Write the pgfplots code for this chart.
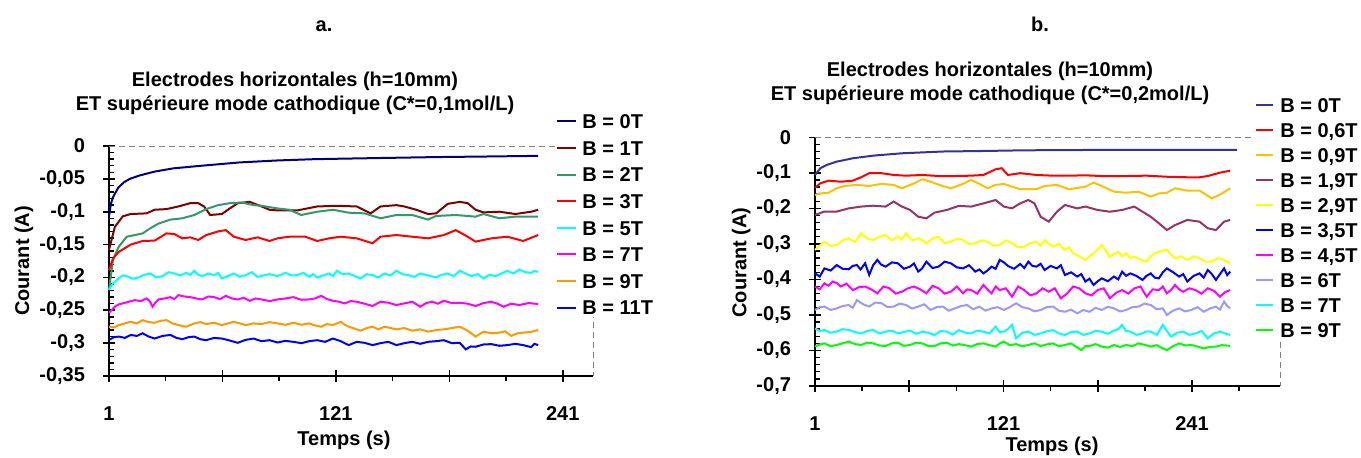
\documentclass[border=0pt]{standalone}
\usepackage{fontspec}
\setmainfont{Liberation Sans}
\usepackage{pgfplots}
\pgfplotsset{compat=1.18}
\definecolor{c0}{RGB}{0,0,128}
\definecolor{c1}{RGB}{128,0,0}
\definecolor{c2}{RGB}{51,153,102}
\definecolor{c3}{RGB}{255,0,0}
\definecolor{c5}{RGB}{0,255,255}
\definecolor{c7}{RGB}{255,0,255}
\definecolor{c9}{RGB}{255,153,0}
\definecolor{c11}{RGB}{0,0,255}
\definecolor{d0}{RGB}{51,51,153}
\definecolor{d06}{RGB}{255,0,0}
\definecolor{d09}{RGB}{255,192,0}
\definecolor{d19}{RGB}{153,51,102}
\definecolor{d29}{RGB}{255,255,0}
\definecolor{d35}{RGB}{0,0,255}
\definecolor{d45}{RGB}{255,0,255}
\definecolor{d6}{RGB}{153,153,255}
\definecolor{d7}{RGB}{0,255,255}
\definecolor{d9}{RGB}{0,255,0}
\pgfplotsset{
  myax/.style={
    scale only axis, clip=false,
    axis lines=left, axis line style={-, black, line width=0.75pt},
    xmin=1,
    xtick={1,61,121,181,241}, xticklabels={1,,121,,241},
    tick align=center, major tick length=6pt, minor tick length=2.6pt,
    major tick style={draw=black, line width=0.8pt},
    minor tick style={draw=black, line width=0.7pt},
    every minor x tick/.append style={yshift=-1.3pt},
    every minor y tick/.append style={xshift=1.3pt},
    minor y tick num=4,
    tick label style={font=\bfseries},
    xticklabel style={yshift=-8.8pt},
    yticklabel style={xshift=-5.5pt},
    label style={font=\bfseries},
    xlabel={Temps (s)}, ylabel={Courant (A)},
    legend cell align=left,
    legend image code/.code={\draw[##1] (0pt,0pt) -- (9.5pt,0pt);},
    every axis plot/.append style={line width=1pt},
  }
}
\begin{document}
\begin{tikzpicture}
\path[use as bounding box] (0,0) rectangle (680.5pt,228.5pt);
\node[font=\bfseries, anchor=base] at (162pt,212.6pt) {a.};
\node[font=\bfseries, anchor=base] at (520pt,212.6pt) {b.};
\node[font=\bfseries, anchor=base] at (147.5pt,185.5pt) {Electrodes horizontales (h=10mm)};
\node[font=\bfseries, anchor=base] at (147.5pt,173.5pt) {ET supérieure mode cathodique (C*=0,1mol/L)};
\node[font=\bfseries, anchor=base] at (495pt,190.5pt) {Electrodes horizontales (h=10mm)};
\node[font=\bfseries, anchor=base] at (495pt,178.5pt) {ET supérieure mode cathodique (C*=0,2mol/L)};

% ---------------- left chart ----------------
\begin{axis}[myax,
  at={(54.5pt,40.5pt)}, anchor=south west,
  width=242pt, height=115pt,
  xmax=257, ymin=-0.35, ymax=0,
  minor xtick={31,91,151,211},
  ytick={-0.35,-0.3,-0.25,-0.2,-0.15,-0.1,-0.05,0},
  yticklabels={{-0,35},{-0,3},{-0,25},{-0,2},{-0,15},{-0,1},{-0,05},0},
  xlabel style={at={(axis description cs:0.4855,-0.30)}, anchor=base},
  ylabel style={at={(axis description cs:-0.165,0.5)}, anchor=base, rotate=0},
  legend style={draw=none, fill=white, inner sep=0pt,
    at={(0.9236,1.1487)}, anchor=north west, font=\bfseries,
    row sep=4.1pt, nodes={inner sep=1pt, text height=7.2pt, text depth=0pt},
    /tikz/every odd column/.style={column sep=1.5pt}},
]
\draw[gray, dash pattern=on 3pt off 2pt, line width=0.5pt] (rel axis cs:0,1) -- (rel axis cs:1,1) -- (rel axis cs:1,0);
\addplot[c0] coordinates {(1,-0.107)(2,-0.088)(3,-0.079)(4,-0.073)(6,-0.063)(9,-0.055)(12,-0.05)(17,-0.045)(25,-0.039)(35,-0.034)(50,-0.03)(70,-0.025)(90,-0.022)(110,-0.02)(130,-0.019)(150,-0.018)(175,-0.0168)(200,-0.016)(228,-0.015)};
\addlegendentry{B = 0T}
\addplot[c1] coordinates {(1,-0.158)(4.1,-0.123)(8.3,-0.107)(12.5,-0.1035)(20.9,-0.1025)(25.1,-0.097)(31.4,-0.096)(37.7,-0.092)(44,-0.087)(48.2,-0.087)(51.3,-0.092)(54.5,-0.105)(60.7,-0.1035)(64.9,-0.095)(69.1,-0.087)(75.4,-0.085)(81.7,-0.092)(85.9,-0.097)(90.1,-0.098)(100.6,-0.098)(111.1,-0.092)(121.5,-0.091)(132,-0.092)(139.4,-0.1025)(144.6,-0.092)(153,-0.09)(157.2,-0.092)(163.5,-0.097)(169.8,-0.1035)(174,-0.1025)(180.2,-0.088)(186.5,-0.085)(190.7,-0.087)(194.9,-0.097)(199.1,-0.101)(207.5,-0.1)(215.9,-0.1035)(224.3,-0.1)(228,-0.097)};
\addlegendentry{B = 1T}
\addplot[c2] coordinates {(1,-0.219)(3.1,-0.1735)(6.2,-0.153)(10.4,-0.138)(14.6,-0.1355)(18.8,-0.133)(23,-0.125)(27.2,-0.118)(33.5,-0.112)(39.8,-0.11)(46.1,-0.105)(52.4,-0.096)(58.7,-0.09)(64.9,-0.087)(71.2,-0.086)(77.5,-0.09)(81.7,-0.091)(90.1,-0.095)(96.4,-0.097)(102.7,-0.105)(111.1,-0.1)(119.4,-0.097)(127.8,-0.1015)(136.2,-0.1025)(144.6,-0.11)(153,-0.105)(161.4,-0.105)(169.8,-0.112)(174,-0.1065)(184.4,-0.105)(194.9,-0.1075)(199.1,-0.1035)(207.5,-0.11)(215.9,-0.1075)(228,-0.1075)};
\addlegendentry{B = 2T}
\addplot[c3] coordinates {(1,-0.189)(3.1,-0.171)(6.2,-0.161)(12.5,-0.15)(18.8,-0.1445)(25.1,-0.144)(31.4,-0.133)(35.6,-0.134)(39.8,-0.1405)(44,-0.139)(48.2,-0.143)(52.4,-0.1355)(58.7,-0.13)(62.8,-0.128)(67,-0.138)(73.3,-0.143)(79.6,-0.139)(85.9,-0.1445)(90.1,-0.1405)(96.4,-0.138)(104.8,-0.138)(111.1,-0.1445)(117.4,-0.1405)(123.6,-0.138)(132,-0.1405)(140.4,-0.148)(144.6,-0.138)(153,-0.1355)(161.4,-0.138)(169.8,-0.1405)(178.1,-0.1355)(184.4,-0.128)(190.7,-0.138)(194.9,-0.1455)(203.3,-0.1405)(211.7,-0.138)(220.1,-0.1445)(228,-0.1355)};
\addlegendentry{B = 3T}
\addplot[c5] coordinates {(1,-0.219)(3.1,-0.209)(6.2,-0.2015)(8.3,-0.197)(10.4,-0.198)(13.5,-0.202)(16.7,-0.2)(19.8,-0.196)(23,-0.194)(26,-0.2)(29.3,-0.198)(32.5,-0.192)(35.6,-0.194)(38.7,-0.197)(41.9,-0.193)(44,-0.196)(46.1,-0.19)(48.2,-0.196)(50.3,-0.198)(53.5,-0.194)(56.6,-0.1965)(58.7,-0.193)(60.7,-0.2015)(63.9,-0.198)(67,-0.194)(70.2,-0.199)(73.3,-0.1965)(76.5,-0.192)(79.6,-0.199)(82.8,-0.197)(85.9,-0.195)(90.1,-0.198)(94.3,-0.193)(97.5,-0.197)(100.6,-0.1965)(103.8,-0.193)(106.9,-0.199)(109,-0.195)(111.1,-0.2)(114.3,-0.197)(117.4,-0.194)(119.5,-0.198)(121.5,-0.19)(124.7,-0.195)(127.8,-0.194)(131,-0.198)(134.1,-0.2015)(137.3,-0.195)(140.4,-0.1965)(143.5,-0.2)(146.7,-0.194)(149.9,-0.197)(153,-0.19)(156.2,-0.195)(159.3,-0.1965)(162.5,-0.199)(165.6,-0.194)(169.8,-0.197)(174,-0.2)(177.1,-0.196)(180.2,-0.194)(183.4,-0.198)(186.5,-0.19)(189.7,-0.194)(192.8,-0.198)(196,-0.195)(199.1,-0.2015)(202.3,-0.196)(205.4,-0.198)(208.6,-0.194)(211.7,-0.19)(214.9,-0.194)(218,-0.188)(221.2,-0.192)(224.3,-0.193)(226,-0.19)(228,-0.1915)};
\addlegendentry{B = 5T}
\addplot[c7] coordinates {(1,-0.254)(4.1,-0.2445)(6.2,-0.241)(8.3,-0.2395)(11.5,-0.237)(14.6,-0.2345)(17.8,-0.236)(20.9,-0.232)(22.5,-0.236)(24.1,-0.2445)(25.6,-0.238)(27.2,-0.2335)(30.4,-0.232)(33.5,-0.23)(35.6,-0.233)(37.7,-0.227)(40.9,-0.229)(44,-0.23)(47.2,-0.232)(50.3,-0.2335)(53.5,-0.229)(56.6,-0.23)(59.7,-0.233)(62.8,-0.228)(66,-0.232)(69.1,-0.2335)(72.3,-0.231)(75.4,-0.2355)(78.6,-0.232)(81.7,-0.2335)(85.9,-0.236)(90.1,-0.2335)(94.3,-0.232)(98.5,-0.23)(102.7,-0.234)(106.9,-0.2335)(110,-0.232)(113.2,-0.228)(116.3,-0.233)(119.4,-0.2355)(122.6,-0.237)(125.7,-0.2395)(128.9,-0.236)(132,-0.237)(136.2,-0.24)(140.4,-0.2435)(144.6,-0.237)(148.8,-0.2385)(153,-0.242)(157.2,-0.2395)(161.4,-0.237)(165.6,-0.2445)(168.8,-0.239)(171.9,-0.237)(175,-0.24)(178.1,-0.2355)(182.3,-0.239)(186.5,-0.2385)(190.7,-0.24)(194.9,-0.2435)(199.1,-0.239)(203.3,-0.237)(206.5,-0.24)(209.6,-0.2445)(213.8,-0.24)(218,-0.242)(223,-0.239)(228,-0.2405)};
\addlegendentry{B = 7T}
\addplot[c9] coordinates {(1,-0.275)(3.6,-0.276)(6.2,-0.2725)(9.4,-0.27)(12.5,-0.2675)(15.7,-0.27)(18.8,-0.265)(22,-0.268)(25.1,-0.269)(28.3,-0.266)(31.4,-0.265)(34.6,-0.27)(37.7,-0.2725)(41.9,-0.275)(46.1,-0.27)(49.3,-0.268)(52.4,-0.271)(56.6,-0.269)(60.7,-0.2725)(64,-0.27)(67,-0.2675)(70.2,-0.27)(73.3,-0.2725)(77.5,-0.27)(81.7,-0.271)(85.9,-0.268)(90.1,-0.27)(94.3,-0.272)(98.5,-0.269)(102.7,-0.272)(106.9,-0.27)(110,-0.273)(113.2,-0.275)(116.3,-0.271)(119.4,-0.2725)(121.5,-0.27)(123.6,-0.2675)(125.7,-0.272)(127.8,-0.275)(131,-0.278)(134.1,-0.281)(137.3,-0.277)(140.4,-0.275)(143.5,-0.279)(146.7,-0.275)(149.9,-0.277)(153,-0.279)(157.2,-0.277)(161.4,-0.281)(165.6,-0.279)(169.8,-0.2825)(174,-0.28)(178.1,-0.279)(182.3,-0.277)(186.5,-0.275)(190.7,-0.281)(194.9,-0.29)(199.1,-0.2825)(203.3,-0.285)(207.5,-0.284)(210.6,-0.282)(213.8,-0.289)(217,-0.285)(220.1,-0.284)(224,-0.283)(228,-0.28)};
\addlegendentry{B = 9T}
\addplot[c11] coordinates {(1,-0.295)(3.6,-0.291)(6.2,-0.29)(9.4,-0.292)(12.5,-0.2875)(15.7,-0.289)(18.8,-0.285)(22,-0.29)(25.1,-0.293)(29.3,-0.289)(33.5,-0.2875)(36.7,-0.292)(39.8,-0.294)(43,-0.291)(46.1,-0.29)(49.3,-0.294)(52.4,-0.2955)(56.6,-0.292)(60.7,-0.293)(64.9,-0.296)(69.1,-0.2995)(73.3,-0.295)(77.5,-0.293)(81.7,-0.297)(85.9,-0.2955)(90.1,-0.299)(94.3,-0.2965)(98.5,-0.298)(102.7,-0.3)(106.9,-0.297)(111.1,-0.2955)(115.3,-0.298)(119.4,-0.293)(123.6,-0.297)(127.8,-0.303)(132,-0.298)(136.2,-0.2995)(140.4,-0.303)(144.6,-0.3)(148.8,-0.298)(153,-0.303)(157.2,-0.3)(161.4,-0.298)(165.6,-0.301)(169.8,-0.298)(174,-0.297)(178.1,-0.2955)(182.3,-0.3)(186.5,-0.2995)(189.7,-0.3095)(192.3,-0.305)(194.9,-0.3055)(199.1,-0.302)(203.3,-0.3015)(207.5,-0.304)(211.7,-0.303)(215.9,-0.301)(220.1,-0.303)(224.3,-0.306)(226,-0.301)(228,-0.303)};
\addlegendentry{B = 11T}
\end{axis}

% ---------------- right chart ----------------
\begin{axis}[myax,
  at={(407.5pt,35.5pt)}, anchor=south west,
  width=232.5pt, height=124.35pt,
  xmax=297, ymin=-0.7, ymax=0,
  minor xtick={31,91,151,211,271},
  ytick={-0.7,-0.6,-0.5,-0.4,-0.3,-0.2,-0.1,0},
  yticklabels={{-0,7},{-0,6},{-0,5},{-0,4},{-0,3},{-0,2},{-0,1},0},
  xlabel style={at={(axis description cs:0.5097,-0.2614)}, anchor=base},
  ylabel style={at={(axis description cs:-0.1475,0.4966)}, anchor=base, rotate=0},
  legend image code/.code={\draw[#1] (0pt,0pt) -- (8.5pt,0pt);},
  legend style={draw=none, fill=white, inner sep=0pt,
    at={(0.9462,1.1669)}, anchor=north west, font=\bfseries,
    row sep=3.3pt, nodes={inner sep=1pt, text height=7.2pt, text depth=0pt},
    /tikz/every odd column/.style={column sep=2pt}},
]
\draw[gray, dash pattern=on 3pt off 2pt, line width=0.5pt] (rel axis cs:0,1) -- (rel axis cs:1,1) -- (rel axis cs:1,0);
\addplot[d0] coordinates {(1,-0.106)(4.4,-0.087)(8.3,-0.078)(14.8,-0.0685)(25.1,-0.059)(38.1,-0.0516)(56.3,-0.045)(82.3,-0.04)(108.2,-0.0385)(134.2,-0.0366)(173.1,-0.0357)(225,-0.0357)(269.7,-0.0357)};
\addlegendentry{B = 0T}
\addplot[d06] coordinates {(1,-0.142)(4.4,-0.1295)(9.6,-0.122)(17.4,-0.125)(25.1,-0.122)(30.3,-0.1125)(35.5,-0.101)(43.3,-0.101)(51.1,-0.106)(58.9,-0.108)(69.3,-0.106)(79.7,-0.109)(90,-0.109)(100.4,-0.108)(108.2,-0.106)(116,-0.09)(119.9,-0.087)(123.8,-0.106)(131.6,-0.101)(142,-0.106)(152.4,-0.108)(162.7,-0.108)(173.1,-0.107)(183.5,-0.109)(199.1,-0.109)(212.1,-0.108)(225,-0.111)(238,-0.1125)(245.8,-0.1125)(251,-0.109)(258.8,-0.0995)(265.3,-0.094)};
\addlegendentry{B = 0,6T}
\addplot[d09] coordinates {(1,-0.162)(4.4,-0.158)(9.6,-0.156)(14.8,-0.1435)(20,-0.137)(27.7,-0.134)(35.5,-0.137)(43.3,-0.131)(51.1,-0.134)(56.3,-0.1435)(64.1,-0.1295)(69.3,-0.118)(74.5,-0.125)(82.3,-0.137)(87.4,-0.1435)(95.2,-0.131)(100.4,-0.12)(105.6,-0.131)(110.8,-0.1435)(116,-0.134)(121.2,-0.131)(126.4,-0.139)(131.6,-0.146)(142,-0.146)(147.2,-0.137)(155,-0.134)(162.7,-0.146)(173.1,-0.139)(178.3,-0.1275)(183.5,-0.137)(191.3,-0.153)(199.1,-0.156)(206.9,-0.153)(214.7,-0.167)(219.9,-0.158)(225,-0.156)(230.2,-0.1435)(238,-0.15)(245.8,-0.15)(253.6,-0.172)(260.1,-0.158)(265.3,-0.1435)};
\addlegendentry{B = 0,9T}
\addplot[d19] coordinates {(1,-0.2185)(7,-0.209)(14.8,-0.209)(22.5,-0.2)(30.3,-0.195)(38.1,-0.1925)(45.9,-0.195)(51.1,-0.181)(56.3,-0.195)(61.5,-0.2045)(66.7,-0.2235)(71.9,-0.228)(77.1,-0.212)(84.9,-0.2045)(92.6,-0.193)(100.4,-0.195)(108.2,-0.186)(116,-0.1765)(121.2,-0.195)(126.4,-0.2)(131.6,-0.186)(136.8,-0.1765)(140.7,-0.186)(144.6,-0.2235)(149.8,-0.2375)(155,-0.2095)(160.1,-0.1905)(167.9,-0.2)(173.1,-0.195)(180.9,-0.2045)(188.7,-0.2095)(196.5,-0.2045)(204.3,-0.195)(209.5,-0.2095)(214.7,-0.2235)(219.9,-0.242)(225,-0.261)(230.2,-0.247)(238,-0.2325)(245.8,-0.2375)(251,-0.256)(256.2,-0.261)(261.4,-0.2375)(265.3,-0.2325)};
\addlegendentry{B = 1,9T}
\addplot[d29] coordinates {(1,-0.317)(4,-0.305)(7,-0.294)(11,-0.306)(14.8,-0.303)(18.6,-0.29)(22.5,-0.284)(26.4,-0.295)(30.3,-0.27)(34.2,-0.285)(38.1,-0.289)(42,-0.28)(45.9,-0.275)(49.8,-0.29)(53.7,-0.2795)(56.3,-0.288)(58.9,-0.27)(62.8,-0.29)(66.7,-0.284)(69.3,-0.29)(71.9,-0.298)(75.8,-0.285)(79.7,-0.2795)(83.5,-0.298)(87.4,-0.294)(91.3,-0.285)(95.2,-0.289)(99,-0.3)(103,-0.298)(107,-0.29)(110.8,-0.294)(114.7,-0.305)(118.6,-0.303)(122.5,-0.29)(126.4,-0.298)(130.3,-0.31)(134.2,-0.308)(138,-0.298)(142,-0.294)(144.6,-0.305)(147.2,-0.289)(149.8,-0.3)(152.4,-0.308)(156.3,-0.3)(160.1,-0.317)(162.7,-0.31)(165.3,-0.3265)(169.2,-0.335)(173.1,-0.345)(175.7,-0.335)(178.3,-0.3265)(181,-0.315)(183.5,-0.303)(186,-0.318)(188.7,-0.336)(191.3,-0.328)(193.9,-0.322)(196.5,-0.335)(199.1,-0.3265)(201.7,-0.34)(204.3,-0.336)(208.2,-0.345)(212.1,-0.35)(214.7,-0.335)(217.3,-0.3265)(221,-0.32)(225,-0.317)(227.6,-0.33)(230.2,-0.3405)(234,-0.335)(238,-0.345)(242,-0.335)(245.8,-0.3405)(249.7,-0.35)(253.6,-0.35)(257.5,-0.34)(261.4,-0.345)(263.4,-0.35)(265.3,-0.3545)};
\addlegendentry{B = 2,9T}
\addplot[d35] coordinates {(1,-0.383)(4,-0.392)(7,-0.369)(11,-0.375)(14.8,-0.3595)(18.6,-0.37)(22.5,-0.3715)(25,-0.362)(27.7,-0.3595)(30,-0.372)(32.9,-0.3545)(35.5,-0.3875)(38,-0.36)(40.7,-0.345)(43,-0.358)(45.9,-0.364)(50,-0.352)(53.7,-0.3545)(57.6,-0.37)(61.5,-0.364)(64,-0.355)(66.7,-0.378)(69,-0.37)(71.9,-0.35)(75.8,-0.368)(79.7,-0.364)(83.5,-0.35)(87.4,-0.3545)(91.3,-0.366)(95.2,-0.369)(99,-0.36)(103,-0.378)(105.6,-0.372)(108.2,-0.383)(110.8,-0.375)(113.4,-0.364)(116,-0.37)(118.6,-0.345)(121.2,-0.352)(123.8,-0.362)(127.7,-0.37)(131.6,-0.3565)(134.2,-0.368)(136.8,-0.35)(139.4,-0.362)(142,-0.364)(144.6,-0.356)(147.2,-0.3735)(151,-0.362)(155,-0.369)(157.5,-0.36)(160.1,-0.3875)(164,-0.38)(167.9,-0.392)(170.5,-0.385)(173.1,-0.406)(175.7,-0.398)(178.3,-0.4155)(181,-0.405)(183.5,-0.397)(187.4,-0.405)(191.3,-0.392)(194,-0.4)(196.5,-0.378)(199,-0.39)(201.7,-0.383)(205.6,-0.39)(209.5,-0.4015)(212,-0.39)(214.7,-0.383)(217.3,-0.395)(219.9,-0.397)(222.4,-0.38)(225,-0.369)(229,-0.38)(232.8,-0.392)(235.4,-0.385)(238,-0.406)(242,-0.39)(245.8,-0.383)(248.4,-0.395)(251,-0.3735)(253.6,-0.385)(256.2,-0.4015)(258.8,-0.385)(261.4,-0.369)(263.4,-0.388)(265.3,-0.378)};
\addlegendentry{B = 3,5T}
\addplot[d45] coordinates {(1,-0.42)(4,-0.428)(7,-0.411)(9.6,-0.418)(12.2,-0.406)(14.8,-0.41)(17.4,-0.42)(21,-0.412)(25.1,-0.43)(29,-0.422)(32.9,-0.42)(36.8,-0.428)(40.7,-0.439)(44.6,-0.42)(48.5,-0.425)(52.4,-0.44)(56.3,-0.4345)(60.2,-0.425)(64.1,-0.42)(68,-0.428)(71.9,-0.439)(75.8,-0.418)(79.7,-0.425)(83.5,-0.44)(87.4,-0.4345)(91.3,-0.42)(95.2,-0.439)(97.8,-0.428)(100.4,-0.43)(104.3,-0.44)(108.2,-0.4155)(110.8,-0.428)(113.4,-0.439)(116,-0.42)(118.6,-0.43)(122.5,-0.425)(126.4,-0.4485)(130.3,-0.42)(134.2,-0.43)(138.1,-0.445)(142,-0.439)(145.9,-0.425)(149.8,-0.4345)(153.6,-0.425)(157.5,-0.453)(161.4,-0.44)(165.3,-0.42)(169.2,-0.425)(173.1,-0.439)(177,-0.445)(180.9,-0.43)(184.8,-0.425)(188.7,-0.453)(192.6,-0.438)(196.5,-0.43)(200.4,-0.44)(204.3,-0.425)(208.2,-0.42)(212.1,-0.4485)(216,-0.428)(219.9,-0.43)(222.4,-0.42)(225,-0.439)(227.6,-0.43)(230.2,-0.4155)(232.8,-0.428)(235.4,-0.4345)(239.3,-0.425)(243.2,-0.43)(247.1,-0.44)(251,-0.425)(254.9,-0.432)(258.8,-0.4485)(262,-0.436)(265.3,-0.43)};
\addlegendentry{B = 4,5T}
\addplot[d6] coordinates {(1,-0.486)(4,-0.478)(7,-0.4765)(11,-0.486)(14.8,-0.4815)(18.6,-0.475)(22.5,-0.472)(25,-0.48)(27.7,-0.458)(31.6,-0.47)(35.5,-0.4765)(39.4,-0.465)(43.3,-0.467)(47.2,-0.478)(51.1,-0.4765)(55,-0.468)(58.9,-0.472)(62.8,-0.482)(66.7,-0.4765)(70.6,-0.47)(74.5,-0.486)(78.4,-0.478)(82.3,-0.4765)(86.2,-0.488)(90,-0.4815)(94,-0.475)(97.8,-0.472)(101.7,-0.484)(105.6,-0.4765)(109.5,-0.488)(113.4,-0.4815)(117.3,-0.478)(121.2,-0.486)(125,-0.478)(129,-0.467)(132.9,-0.478)(136.8,-0.4815)(140.7,-0.49)(144.6,-0.486)(148.5,-0.478)(152.4,-0.4765)(156.3,-0.488)(160.1,-0.491)(164,-0.485)(167.9,-0.4955)(171.8,-0.486)(175.7,-0.491)(179.6,-0.48)(183.5,-0.486)(187.4,-0.477)(191.3,-0.4815)(195.2,-0.49)(199.1,-0.486)(203,-0.478)(206.9,-0.4765)(210.8,-0.468)(214.7,-0.472)(218.6,-0.484)(222.4,-0.4815)(225,-0.5)(228.9,-0.488)(232.8,-0.4815)(236.7,-0.49)(240.6,-0.486)(244.5,-0.478)(248.4,-0.491)(252.3,-0.482)(256.2,-0.4765)(258.8,-0.485)(261.4,-0.4625)(263.4,-0.475)(265.3,-0.4815)};
\addlegendentry{B = 6T}
\addplot[d7] coordinates {(1,-0.538)(4,-0.545)(7,-0.5425)(11,-0.55)(14.8,-0.547)(18.6,-0.54)(22.5,-0.5425)(26.4,-0.548)(30.3,-0.552)(34.2,-0.545)(38.1,-0.5425)(42,-0.552)(45.9,-0.547)(49.8,-0.544)(53.7,-0.552)(57.6,-0.548)(61.5,-0.544)(65.4,-0.553)(69.3,-0.547)(73.2,-0.55)(77.1,-0.5565)(81,-0.545)(84.9,-0.547)(88.8,-0.555)(92.6,-0.5425)(96.5,-0.55)(100.4,-0.552)(104.3,-0.544)(108.2,-0.547)(112,-0.552)(116,-0.533)(118.6,-0.548)(121.2,-0.547)(123.8,-0.54)(126.4,-0.528)(129,-0.566)(132.9,-0.55)(136.8,-0.547)(140.7,-0.556)(144.6,-0.552)(148.5,-0.546)(152.4,-0.5425)(156.3,-0.552)(160.1,-0.5565)(164,-0.548)(167.9,-0.547)(171.8,-0.556)(175.7,-0.552)(179.6,-0.545)(183.5,-0.547)(187.4,-0.553)(191.3,-0.544)(194,-0.54)(196.5,-0.528)(199,-0.545)(201.7,-0.547)(205.6,-0.556)(209.5,-0.552)(212,-0.546)(214.7,-0.547)(218.6,-0.556)(222.4,-0.528)(225,-0.545)(227.6,-0.561)(231.5,-0.55)(235.4,-0.547)(239.3,-0.556)(243.2,-0.552)(247.1,-0.545)(251,-0.566)(254.9,-0.552)(258.8,-0.547)(262,-0.552)(265.3,-0.5565)};
\addlegendentry{B = 7T}
\addplot[d9] coordinates {(1,-0.589)(4,-0.583)(7,-0.58)(11,-0.588)(14.8,-0.5845)(18.6,-0.58)(22.5,-0.575)(26.4,-0.582)(30.3,-0.5845)(34.2,-0.578)(38.1,-0.58)(42,-0.586)(45.9,-0.5875)(49.8,-0.58)(53.7,-0.578)(57.6,-0.587)(61.5,-0.5845)(65.4,-0.578)(69.3,-0.58)(73.2,-0.588)(77.1,-0.5875)(81,-0.58)(84.9,-0.578)(88.8,-0.586)(92.6,-0.582)(96.5,-0.585)(100.4,-0.589)(104.3,-0.582)(108.2,-0.58)(112,-0.585)(116,-0.589)(118.6,-0.58)(121.2,-0.575)(125,-0.585)(129,-0.582)(132.9,-0.588)(136.8,-0.5845)(140.7,-0.58)(144.6,-0.5875)(148.5,-0.583)(152.4,-0.58)(156.3,-0.588)(160.1,-0.5845)(164,-0.58)(167.9,-0.591)(170.5,-0.599)(173,-0.588)(175.7,-0.5875)(179.6,-0.582)(183.5,-0.589)(187.4,-0.592)(191.3,-0.5845)(195.2,-0.59)(199.1,-0.5845)(203,-0.588)(206.9,-0.58)(210.8,-0.584)(214.7,-0.589)(218.6,-0.585)(222.4,-0.594)(225,-0.599)(228.9,-0.588)(232.8,-0.58)(236.7,-0.586)(240.6,-0.5845)(244.5,-0.589)(248.4,-0.594)(252.3,-0.59)(256.2,-0.589)(260,-0.585)(265.3,-0.587)};
\addlegendentry{B = 9T}
\end{axis}
\end{tikzpicture}
\end{document}
